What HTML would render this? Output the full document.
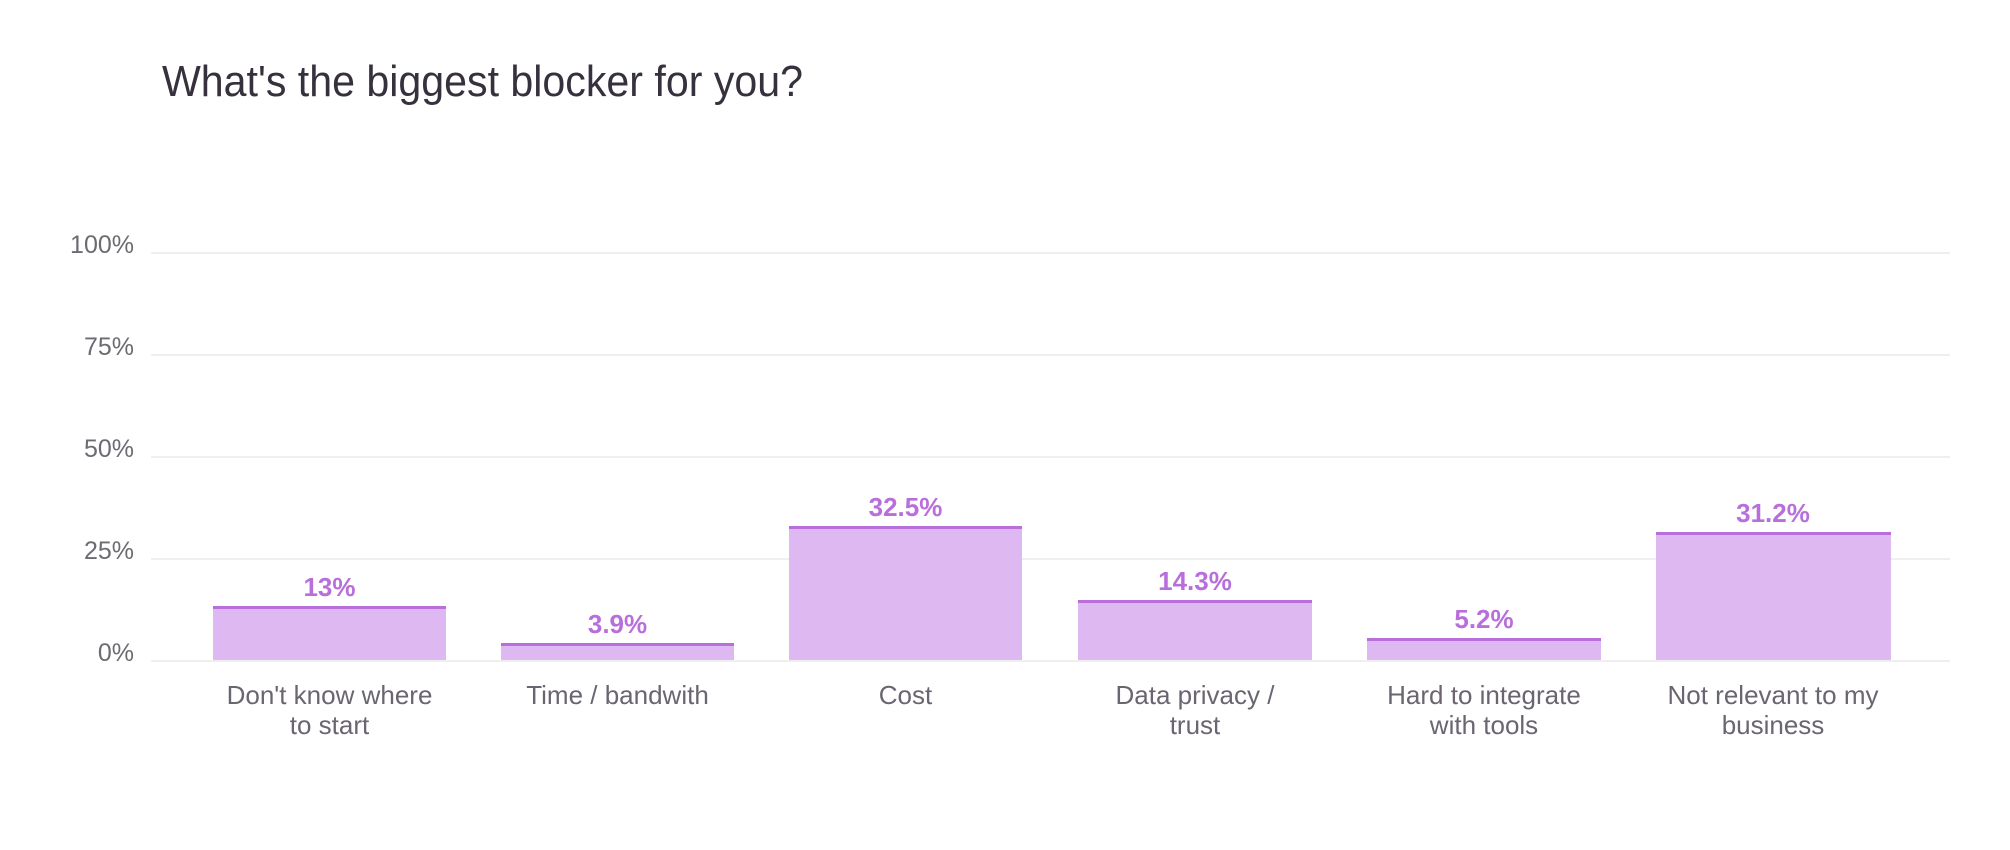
<!DOCTYPE html>
<html><head><meta charset="utf-8"><style>
html,body{margin:0;padding:0;background:#fff;width:2010px;height:850px;overflow:hidden}
svg{display:block}
text{font-family:"Liberation Sans",sans-serif}
</style></head><body>
<svg width="2010" height="850" xmlns="http://www.w3.org/2000/svg">
<text x="162" y="96" font-size="44" fill="#37303d" textLength="641" lengthAdjust="spacingAndGlyphs">What's the biggest blocker for you?</text>
<g stroke="#efeef1" stroke-width="2">
<line x1="151" x2="1950" y1="253" y2="253"/>
<line x1="151" x2="1950" y1="355" y2="355"/>
<line x1="151" x2="1950" y1="457" y2="457"/>
<line x1="151" x2="1950" y1="559" y2="559"/>
<line x1="151" x2="1950" y1="661" y2="661"/>
</g>
<g font-size="25" fill="#6e6a72" text-anchor="end">
<text x="134" y="253">100%</text>
<text x="134" y="355">75%</text>
<text x="134" y="457">50%</text>
<text x="134" y="559">25%</text>
<text x="134" y="661">0%</text>
</g>
<g fill="#ddb8f1">
<rect x="213" y="607" width="233" height="53"/>
<rect x="501" y="644" width="233" height="16"/>
<rect x="789" y="527" width="233" height="133"/>
<rect x="1078" y="601" width="234" height="59"/>
<rect x="1367" y="639" width="234" height="21"/>
<rect x="1656" y="533" width="235" height="127"/>
</g>
<g fill="#b96fdb">
<rect x="213" y="606" width="233" height="3"/>
<rect x="501" y="643" width="233" height="3"/>
<rect x="789" y="526" width="233" height="3"/>
<rect x="1078" y="600" width="234" height="3"/>
<rect x="1367" y="638" width="234" height="3"/>
<rect x="1656" y="532" width="235" height="3"/>
</g>
<g font-size="26" font-weight="bold" fill="#b96fdb" text-anchor="middle">
<text x="329.5" y="596">13%</text>
<text x="617.5" y="633">3.9%</text>
<text x="905.5" y="516">32.5%</text>
<text x="1195" y="590">14.3%</text>
<text x="1484" y="628">5.2%</text>
<text x="1773" y="522">31.2%</text>
</g>
<g font-size="26" fill="#6a6570" text-anchor="middle">
<text x="329.5" y="704">Don't know where</text>
<text x="329.5" y="734">to start</text>
<text x="617.5" y="704">Time / bandwith</text>
<text x="905.5" y="704">Cost</text>
<text x="1195" y="704">Data privacy /</text>
<text x="1195" y="734">trust</text>
<text x="1484" y="704">Hard to integrate</text>
<text x="1484" y="734">with tools</text>
<text x="1773" y="704">Not relevant to my</text>
<text x="1773" y="734">business</text>
</g>
</svg>
</body></html>
